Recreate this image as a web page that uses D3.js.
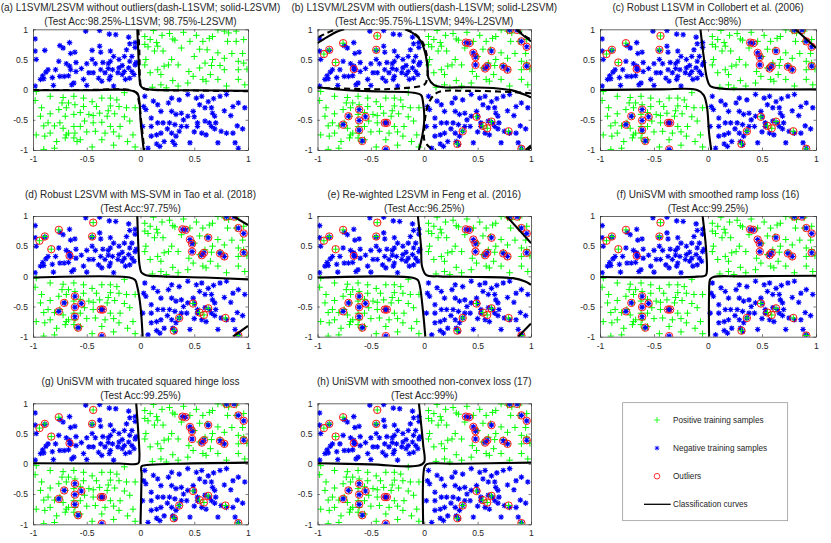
<!DOCTYPE html>
<html><head><meta charset="utf-8">
<script src="https://cdn.jsdelivr.net/npm/d3@7"></script>
<style>
body{margin:0;background:#fff}
svg{display:block}
text{font-family:"Liberation Sans",Arial,Helvetica,sans-serif;fill:#262626}
</style></head>
<body><svg id="chart" width="831" height="543"></svg>
<script>
// ---------------- DATA ----------------
const tickValues = [-1, -0.5, 0, 0.5, 1];
const tickLabels = ["-1", "-0.5", "0", "0.5", "1"];

const positiveSamples = [
  [-0.84,-0.11],[-0.72,-0.13],[-0.62,-0.11],[-0.53,-0.14],[-0.98,-0.18],[-0.36,-0.14],[-0.28,-0.14],[-0.22,-0.17],
  [-0.73,-0.22],[-0.67,-0.22],[-0.61,-0.25],[-0.53,-0.28],[-0.92,-0.30],[-0.76,-0.33],[-0.69,-0.30],[-0.41,-0.28],
  [-0.28,-0.27],[-0.20,-0.28],[-0.13,-0.30],[-0.84,-0.40],[-0.56,-0.38],[-0.48,-0.41],[-0.38,-0.39],[-0.24,-0.40],
  [-0.93,-0.44],[-0.70,-0.44],[-0.62,-0.41],[-0.44,-0.43],[-0.31,-0.44],[-0.86,-0.55],[-0.75,-0.55],[-0.52,-0.52],
  [-0.44,-0.55],[-0.36,-0.54],[-0.10,-0.52],[-0.72,-0.64],[-0.62,-0.61],[-0.56,-0.61],[-0.28,-0.61],[-0.19,-0.61],
  [-0.97,-0.75],[-0.84,-0.72],[-0.67,-0.72],[-0.61,-0.72],[-0.42,-0.69],[-0.33,-0.72],[-0.20,-0.77],[-0.70,-0.80],
  [-0.62,-0.80],[-0.56,-0.83],[-0.78,-0.86],[-0.89,-0.77],[-0.36,-0.83],[-0.12,-0.86],[-0.90,-0.99],[-0.80,-0.97],
  [-0.59,-0.86],[-0.69,-0.75],[-0.07,-0.75],[-0.97,-0.03],[-0.05,-0.95],[-0.15,-0.05],[-0.45,-0.95],[-0.25,-0.92],
  [-0.45,-0.20],[-0.30,-0.35],[-0.15,-0.45],[-0.80,-0.60],[-0.50,-0.70],[-0.25,-0.70],[-0.05,-0.30],[-0.90,-0.60],
  [0.12,0.98],[0.72,0.99],[0.78,0.97],[0.82,0.94],[0.89,0.97],[0.04,0.88],[0.09,0.83],[0.15,0.78],[0.30,0.84],
  [0.32,0.82],[0.64,0.85],[0.67,0.88],[0.81,0.80],[0.89,0.80],[0.96,0.83],[0.16,0.72],[0.21,0.64],[0.13,0.64],
  [0.04,0.75],[0.07,0.71],[0.46,0.80],[0.55,0.67],[0.62,0.66],[0.67,0.50],[0.72,0.61],[0.78,0.52],[0.38,0.69],
  [0.29,0.50],[0.22,0.39],[0.26,0.41],[0.05,0.50],[0.04,0.41],[0.09,0.28],[0.16,0.33],[0.19,0.25],[0.35,0.41],
  [0.55,0.36],[0.60,0.44],[0.66,0.40],[0.74,0.40],[0.78,0.33],[0.91,0.47],[0.96,0.44],[0.91,0.33],[0.99,0.34],
  [0.49,0.22],[0.58,0.17],[0.61,0.14],[0.72,0.17],[0.80,0.06],[0.91,0.17],[0.97,0.08],[0.11,0.04],[0.19,0.08],
  [0.24,0.03],[0.35,0.06],[0.44,0.11],[0.40,0.95],[0.52,0.90],[0.27,0.93],
  [0.50,0.55],[0.45,0.30],[0.30,0.15],[0.65,0.25],[0.85,0.60],[0.95,0.60],[0.20,0.90],[0.58,0.80]
];

const negativeSamples = [
  [-0.98,0.84],[-0.51,0.97],[-0.38,0.98],[-0.29,0.92],[-0.23,0.91],[-0.11,0.87],[-0.10,0.76],[-0.98,0.64],
  [-0.89,0.65],[-0.97,0.50],[-0.66,0.78],[-0.72,0.69],[-0.75,0.73],[-0.65,0.60],[-0.61,0.62],[-0.45,0.65],
  [-0.38,0.72],[-0.37,0.62],[-0.28,0.64],[-0.13,0.66],[-0.08,0.55],[-0.28,0.47],[-0.30,0.43],[-0.45,0.50],
  [-0.42,0.43],[-0.50,0.43],[-0.55,0.35],[-0.69,0.43],[-0.66,0.39],[-0.65,0.33],[-0.76,0.47],[-0.79,0.33],
  [-0.86,0.33],[-0.88,0.29],[-0.91,0.23],[-0.82,0.20],[-0.75,0.22],[-0.71,0.22],[-0.67,0.23],[-0.62,0.11],
  [-0.53,0.17],[-0.44,0.28],[-0.39,0.19],[-0.37,0.33],[-0.33,0.28],[-0.28,0.22],[-0.26,0.33],[-0.20,0.36],
  [-0.17,0.40],[-0.11,0.36],[-0.10,0.47],[-0.05,0.41],[-0.21,0.28],[-0.17,0.25],[-0.14,0.17],[-0.10,0.19],
  [-0.06,0.25],[-0.25,0.06],[-0.36,0.14],[-0.50,0.07],[-0.64,0.08],[-0.98,0.06],[-0.90,0.18],[-0.93,0.17],
  [-0.81,0.07],[-0.29,0.17],
  [-0.04,0.45],[-0.20,0.50],[-0.15,0.55],[-0.25,0.55],[-0.35,0.45],[-0.05,0.70],[-0.05,0.78],[-0.60,0.45],
  [-0.60,0.30],[-0.48,0.28],[-0.15,0.30],[-0.08,0.30],[-0.30,0.35],
  [0.04,-0.11],[0.12,-0.19],[0.05,-0.33],[0.16,-0.25],[0.26,-0.22],[0.29,-0.14],[0.36,-0.17],[0.44,-0.08],
  [0.52,-0.14],[0.57,-0.11],[0.74,-0.11],[0.80,-0.08],[0.91,-0.22],[0.97,-0.30],[0.86,-0.28],[0.10,-0.47],
  [0.19,-0.36],[0.29,-0.36],[0.33,-0.41],[0.38,-0.39],[0.44,-0.44],[0.49,-0.36],[0.66,-0.30],[0.67,-0.39],
  [0.69,-0.44],[0.84,-0.43],[0.10,-0.61],[0.16,-0.55],[0.21,-0.55],[0.27,-0.55],[0.32,-0.58],[0.38,-0.61],
  [0.43,-0.61],[0.53,-0.55],[0.60,-0.52],[0.64,-0.55],[0.66,-0.61],[0.75,-0.69],[0.80,-0.72],[0.53,-0.61],
  [0.10,-0.77],[0.15,-0.75],[0.19,-0.72],[0.29,-0.72],[0.33,-0.77],[0.36,-0.69],[0.57,-0.72],[0.61,-0.75],
  [0.86,-0.72],[0.22,-0.86],[0.30,-0.86],[0.32,-0.91],[0.46,-0.88],[0.72,-0.88],[0.88,-0.88],[0.91,-0.97],
  [0.07,-0.97],[0.18,-0.94],[0.03,-0.28],[0.02,-0.61],
  [0.55,-0.25],[0.60,-0.30],[0.63,-0.20],[0.68,-0.15],[0.70,-0.55],[0.69,-0.65],[0.40,-0.50],[0.25,-0.65],
  [0.50,-0.45],[0.78,-0.35],[0.90,-0.60],[0.95,-0.65],[0.15,-0.90],[0.50,-0.70]
];

const outlierPositive = [
  [-0.94,0.59],[-0.89,0.66],[-0.76,0.77],[-0.83,0.45],[-0.44,0.89],[-0.45,0.66],
  [0.49,-0.45],[0.36,-0.69],[0.31,-0.90],[0.55,-0.60],[0.59,-0.64],[0.63,-0.53],[0.79,-0.69],[0.91,-0.98]
];
const outlierNegative = [
  [-0.66,0.34],[0.39,0.78],[0.42,0.77],[0.46,0.61],[0.48,0.54],[0.48,0.41],[0.63,0.64],[0.57,0.35],[0.59,0.39],
  [0.74,0.38],[0.78,0.33],[0.80,0.99],[0.87,0.99],[0.91,0.80],[0.96,0.71],[0.96,0.39],
  [-0.61,-0.33],[-0.71,-0.44],[-0.61,-0.51],[-0.55,-0.45],[-0.76,-0.58],[-0.61,-0.67],[-0.58,-0.85],
  [-0.37,-0.55],[-0.35,-0.55],[-0.36,-0.99]
];

const panelTitles = [
  "(a) L1SVM/L2SVM without outliers(dash-L1SVM; solid-L2SVM)",
  "(b) L1SVM/L2SVM with outliers(dash-L1SVM; solid-L2SVM)",
  "(c) Robust L1SVM in Collobert et al. (2006)",
  "(d) Robust L2SVM with MS-SVM in Tao et al. (2018)",
  "(e) Re-wighted L2SVM in Feng et al. (2016)",
  "(f) UniSVM with smoothed ramp loss (16)",
  "(g) UniSVM with trucated squared hinge loss",
  "(h) UniSVM with smoothed non-convex loss (17)"
];
const panelAccuracy = [
  "(Test Acc:98.25%-L1SVM; 98.75%-L2SVM)",
  "(Test Acc:95.75%-L1SVM; 94%-L2SVM)",
  "(Test Acc:98%)",
  "(Test Acc:97.75%)",
  "(Test Acc:96.25%)",
  "(Test Acc:99.25%)",
  "(Test Acc:99.25%)",
  "(Test Acc:99%)"
];
const panelHasOutliers = [false, true, true, true, true, true, true, true];

const solidCurves = [
  [[[-0.03,1],[-0.02,0.6],[-0.01,0.2],[0.0,0.07],[0.03,0.02],[0.1,0.0],[0.5,-0.01],[1,-0.02]],
   [[-1,-0.01],[-0.5,-0.01],[-0.1,-0.01],[-0.03,-0.06],[-0.01,-0.2],[0.0,-0.5],[0.03,-1]]],
  [[[-1,0.77],[-0.91,0.87],[-0.82,0.96],[-0.75,1]],
   [[-0.18,1],[-0.10,0.93],[-0.03,0.80],[0.01,0.60],[0.03,0.38],[0.04,0.19],[0.09,0.08],[0.18,0.04],[0.40,0.04],[0.69,0.02],[0.84,-0.02],[0.95,-0.09],[1,-0.13]],
   [[-1,0.04],[-0.72,-0.01],[-0.41,-0.03],[-0.10,-0.05],[-0.03,-0.09],[-0.01,-0.23],[0,-0.5],[-0.02,-0.78],[-0.05,-1]],
   [[0.86,1],[0.92,0.91],[1,0.80]],
   [[0.95,-1],[1,-0.92]]],
  [[[-0.07,1],[-0.04,0.55],[-0.01,0.19],[0.02,0.06],[0.11,0.02],[0.48,0.005],[1,0.005]],
   [[-1,-0.005],[-0.44,0.005],[-0.10,-0.005],[-0.04,-0.09],[-0.01,-0.28],[0.01,-0.72],[0.03,-1]],
   [[0.81,1],[1,0.69]]],
  [[[-0.03,1],[-0.02,0.5],[-0.01,0.2],[0.01,0.06],[0.05,0.02],[0.2,0.0],[0.6,-0.02],[1,-0.05]],
   [[-1,-0.02],[-0.1,-0.02],[-0.05,-0.06],[-0.03,-0.17],[0,-0.5],[0.02,-1]],
   [[0.86,1],[1,0.85]],
   [[0.86,-1],[1,-0.82]]],
  [[[-0.06,1],[-0.03,0.49],[-0.02,0.16],[0.02,0.02],[0.14,0.0],[0.5,-0.01],[0.83,-0.03],[0.94,-0.08],[1,-0.14]],
   [[-1,-0.02],[-0.12,-0.02],[-0.06,-0.06],[-0.04,-0.17],[-0.01,-0.61],[0.01,-1]],
   [[0.77,1],[1,0.55]],
   [[0.88,-1],[1,-0.78]]],
  [[[-0.05,1],[-0.02,0.5],[-0.01,0.1],[-0.02,0.02],[-0.1,-0.005],[-1,-0.01]],
   [[1,0.01],[0.3,0.0],[0.05,-0.01],[0.02,-0.05],[0.01,-0.3],[0.01,-1]]],
  [[[-0.04,1],[-0.02,0.5],[-0.01,0.1],[-0.02,0.01],[-0.2,0.005],[-1,0.01]],
   [[1,0.02],[0.3,0.0],[0.06,-0.02],[0.01,-0.04],[0.01,-0.18],[0,-1]]],
  [[[-0.05,1],[-0.01,0.31],[0.0,0.03],[-0.05,-0.03],[-0.5,-0.01],[-1,0.01]],
   [[1,0.02],[0.3,0.0],[0.02,-0.01],[0,-0.07],[-0.01,-1]]]
];
const dashedCurves = [
  [[[-0.02,1],[-0.01,0.6],[-0.005,0.2],[0.005,0.06],[0.04,0.01],[0.12,-0.005],[0.5,-0.015],[1,-0.025]],
   [[-1,-0.005],[-0.5,-0.005],[-0.1,-0.005],[-0.04,-0.05],[-0.015,-0.2],[0.005,-0.5],[0.035,-1]]],
  [[[-0.99,0.87],[-0.91,0.94],[-0.83,1]],
   [[-0.17,1],[-0.09,0.93],[-0.02,0.80],[0.02,0.60],[0.03,0.38],[0.03,0.22],[0.01,0.10],[-0.03,0.06],[-0.16,0.03],[-0.32,0.01],[-0.57,0.01],[-1,0.03]],
   [[1,-0.06],[0.69,-0.03],[0.40,-0.02],[0.15,-0.03],[0.09,-0.09],[0.04,-0.23],[0.01,-0.45],[0,-0.67],[0,-0.83],[0.04,-0.94],[0.11,-1]],
   [[0.87,1],[0.95,0.88],[1,0.83]],
   [[0.97,-1],[1,-0.95]]],
  [], [], [], [], [], []
];

const legendLabels = ["Positive training samples", "Negative training samples", "Outliers", "Classification curves"];

// ---------------- LAYOUT ----------------
const svg = d3.select("#chart");
const colX = [[33, 248], [317.5, 531], [600, 816]];
const rowY = [[29.3, 150], [216, 336.7], [403.3, 524.3]];
const GREEN = "#00ff00", BLUE = "#0000ff", RED = "#ff0000", AX = "#262626";

panelTitles.forEach((title, i) => {
  const col = i % 3, row = Math.floor(i / 3);
  const x = d3.scaleLinear().domain([-1, 1]).range(colX[col]);
  const y = d3.scaleLinear().domain([-1, 1]).range([rowY[row][1], rowY[row][0]]);
  const g = svg.append("g");
  const cid = "clip" + i;
  g.append("clipPath").attr("id", cid).append("rect")
    .attr("x", colX[col][0]).attr("y", rowY[row][0])
    .attr("width", colX[col][1] - colX[col][0]).attr("height", rowY[row][1] - rowY[row][0]);

  const pg = g.append("g").attr("clip-path", `url(#${cid})`);
  const line2 = d3.line().x(d => x(d[0])).y(d => y(d[1])).curve(d3.curveCatmullRom.alpha(0.5));

  const drawPlus = (sel, pts) => sel.selectAll(null).data(pts).enter().append("path")
    .attr("d", d => `M${x(d[0]) - 3.3},${y(d[1])}h6.6M${x(d[0])},${y(d[1]) - 3.3}v6.6`)
    .attr("stroke", GREEN).attr("stroke-width", 1).attr("fill", "none");
  const drawStar = (sel, pts) => sel.selectAll(null).data(pts).enter().append("path")
    .attr("d", d => {
      const cx = x(d[0]), cy = y(d[1]), r = 2.8, q = 2.0;
      return `M${cx - r},${cy}h${2 * r}M${cx},${cy - r}v${2 * r}M${cx - q},${cy - q}l${2 * q},${2 * q}M${cx - q},${cy + q}l${2 * q},${-2 * q}`;
    })
    .attr("stroke", BLUE).attr("stroke-width", 1.1).attr("fill", "none");

  drawPlus(pg.append("g"), positiveSamples);
  drawStar(pg.append("g"), negativeSamples);
  if (panelHasOutliers[i]) {
    drawPlus(pg.append("g"), outlierPositive);
    drawStar(pg.append("g"), outlierNegative);
    pg.append("g").selectAll("circle").data(outlierPositive.concat(outlierNegative)).enter().append("circle")
      .attr("cx", d => x(d[0])).attr("cy", d => y(d[1])).attr("r", 3.7)
      .attr("fill", "none").attr("stroke", RED).attr("stroke-width", 0.9);
  }

  pg.append("g").selectAll("path").data(solidCurves[i]).enter().append("path")
    .attr("d", line2).attr("fill", "none").attr("stroke", "#000").attr("stroke-width", 2.1);
  pg.append("g").selectAll("path").data(dashedCurves[i]).enter().append("path")
    .attr("d", line2).attr("fill", "none").attr("stroke", "#000").attr("stroke-width", 2.1)
    .attr("stroke-dasharray", "6,4");

  // axes
  const xAxis = d3.axisBottom(x).tickValues(tickValues).tickFormat((d, k) => tickLabels[k]).tickSizeInner(-2.5).tickSizeOuter(0).tickPadding(6);
  const yAxis = d3.axisLeft(y).tickValues(tickValues).tickFormat((d, k) => tickLabels[k]).tickSizeInner(-2.5).tickSizeOuter(0).tickPadding(5);
  const xTop = d3.axisTop(x).tickValues(tickValues).tickFormat("").tickSizeInner(-2.5).tickSizeOuter(0);
  const yRight = d3.axisRight(y).tickValues(tickValues).tickFormat("").tickSizeInner(-2.5).tickSizeOuter(0);

  const styleAxis = a => {
    a.selectAll("path.domain").attr("stroke", AX).attr("stroke-width", 0.7);
    a.selectAll("line").attr("stroke", AX).attr("stroke-width", 0.6);
    a.selectAll("text").attr("font-size", 8.6).attr("fill", AX)
      .style("font-family", '"Liberation Sans",Arial,sans-serif');
  };
  styleAxis(g.append("g").attr("transform", `translate(0,${rowY[row][1]})`).call(xAxis));
  styleAxis(g.append("g").attr("transform", `translate(${colX[col][0]},0)`).call(yAxis));
  styleAxis(g.append("g").attr("transform", `translate(0,${rowY[row][0]})`).call(xTop));
  styleAxis(g.append("g").attr("transform", `translate(${colX[col][1]},0)`).call(yRight));

  const cx = (colX[col][0] + colX[col][1]) / 2;
  g.append("text").attr("x", cx).attr("y", rowY[row][0] - 18).attr("text-anchor", "middle")
    .attr("font-size", 10).text(title);
  g.append("text").attr("x", cx).attr("y", rowY[row][0] - 4).attr("text-anchor", "middle")
    .attr("font-size", 10).text(panelAccuracy[i]);
});

// ---------------- LEGEND ----------------
const lg = svg.append("g");
lg.append("rect").attr("x", 622.7).attr("y", 402.7).attr("width", 165).attr("height", 118)
  .attr("fill", "#fff").attr("stroke", "#8c8c8c").attr("stroke-width", 0.7);
const legY = d3.scalePoint().domain(legendLabels).range([420, 504.3]);
const lx = 657;
lg.append("path").attr("d", `M${lx - 3},${legY(legendLabels[0])}h6M${lx},${legY(legendLabels[0]) - 3}v6`)
  .attr("stroke", GREEN).attr("stroke-width", 0.8);
{
  const cy = legY(legendLabels[1]), r = 2.3, q = 1.7;
  lg.append("path").attr("d", `M${lx - r},${cy}h${2 * r}M${lx},${cy - r}v${2 * r}M${lx - q},${cy - q}l${2 * q},${2 * q}M${lx - q},${cy + q}l${2 * q},${-2 * q}`)
    .attr("stroke", BLUE).attr("stroke-width", 0.9);
}
lg.append("circle").attr("cx", lx).attr("cy", legY(legendLabels[2])).attr("r", 2.8)
  .attr("fill", "none").attr("stroke", RED).attr("stroke-width", 0.8);
lg.append("line").attr("x1", 644).attr("x2", 670.7).attr("y1", legY(legendLabels[3])).attr("y2", legY(legendLabels[3]))
  .attr("stroke", "#000").attr("stroke-width", 1.3);
lg.selectAll("text.l").data(legendLabels).enter().append("text")
  .attr("x", 673).attr("y", d => legY(d) + 2.9).attr("font-size", 8.2).attr("fill", "#262626").text(d => d);
</script></body></html>
